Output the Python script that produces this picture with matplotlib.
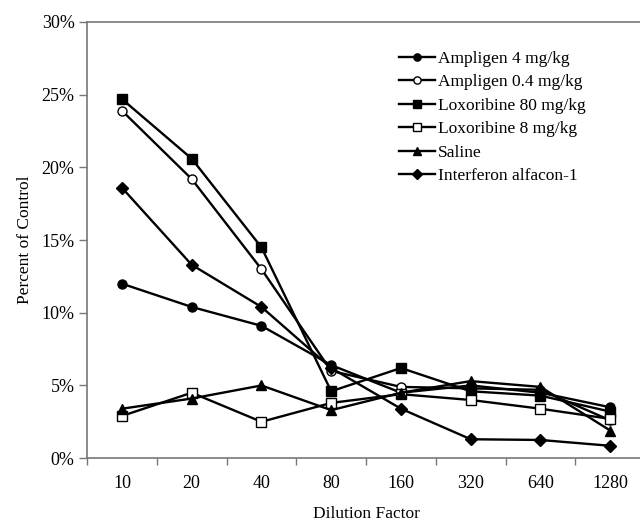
#!/usr/bin/env python3
# -*- coding: utf-8 -*-

"""
Percent of control vs dilution factor, six treatment groups.
"""

import numpy as np
import matplotlib
matplotlib.use('Agg')
import matplotlib.pyplot as plt
from matplotlib.ticker import PercentFormatter

# Данные, проценты
dilutions = ['10', '20', '40', '80', '160', '320', '640', '1280']

ampligen_4 = [12.0, 10.4, 9.1, 6.4, 4.5, 5.0, 4.5, 3.5]
ampligen_04 = [23.9, 19.2, 13.0, 6.0, 4.9, 4.8, 4.7, 2.6]
loxoribine_80 = [24.7, 20.6, 14.5, 4.6, 6.2, 4.6, 4.3, 3.2]
loxoribine_8 = [2.9, 4.5, 2.5, 3.8, 4.4, 4.0, 3.4, 2.7]
saline = [3.4, 4.1, 5.0, 3.3, 4.5, 5.3, 4.9, 1.9]
interferon = [18.6, 13.3, 10.4, 6.2, 3.4, 1.3, 1.25, 0.85]

series_names = ['Ampligen 4 mg/kg', 'Ampligen 0.4 mg/kg', 'Loxoribine 80 mg/kg',
                'Loxoribine 8 mg/kg', 'Saline', 'Interferon alfacon-1']
series_values = [ampligen_4, ampligen_04, loxoribine_80, loxoribine_8, saline, interferon]
series_markers = ['o', 'o', 's', 's', '^', 'D']
series_fill = ['black', 'white', 'black', 'white', 'black', 'black']

plt.rcParams['font.family'] = ['Liberation Serif', 'DejaVu Serif']

fig = plt.figure(figsize=(6.4, 5.23), dpi=100)
fig.patch.set_facecolor('white')
ax = fig.add_axes([0.136, 0.124, 0.872, 0.834])

x = np.arange(len(dilutions))
for name, vals, mk, fc in zip(series_names, series_values, series_markers, series_fill):
    ms = 6 if mk == 'D' else 6.5
    ax.plot(x, vals, color='black', linewidth=1.7, marker=mk, markersize=ms,
            markerfacecolor=fc, markeredgecolor='black', markeredgewidth=1.0,
            label=name)

# Оси
ax.set_xlim(-0.5, len(dilutions) - 0.5)
ax.set_ylim(0, 30)
ax.set_yticks(np.arange(0, 31, 5))
ax.yaxis.set_major_formatter(PercentFormatter(decimals=0))

ax.set_xticks(x)
ax.set_xticklabels(dilutions)
ax.set_xticks(np.arange(-0.5, len(dilutions), 1), minor=True)
ax.tick_params(axis='x', which='major', length=0, pad=12, labelsize=13)
ax.tick_params(axis='x', which='minor', length=5, color='#777777', width=1)
ax.tick_params(axis='y', length=6, color='#777777', width=1, pad=3, labelsize=13)

for side in ['left', 'bottom', 'top']:
    ax.spines[side].set_color('#777777')
    ax.spines[side].set_linewidth(1.2)
ax.spines['right'].set_visible(False)

ax.set_xlabel('Dilution Factor', fontsize=12.5, labelpad=10)
ax.set_ylabel('Percent of Control', fontsize=12.5, labelpad=6)

ax.legend(loc='upper left', bbox_to_anchor=(0.546, 0.95), frameon=False,
          fontsize=12.5, handlelength=2.1, handletextpad=0.15,
          labelspacing=0.42, borderaxespad=0, markerscale=0.8)

fig.savefig('out.png', dpi=100, facecolor='white')
